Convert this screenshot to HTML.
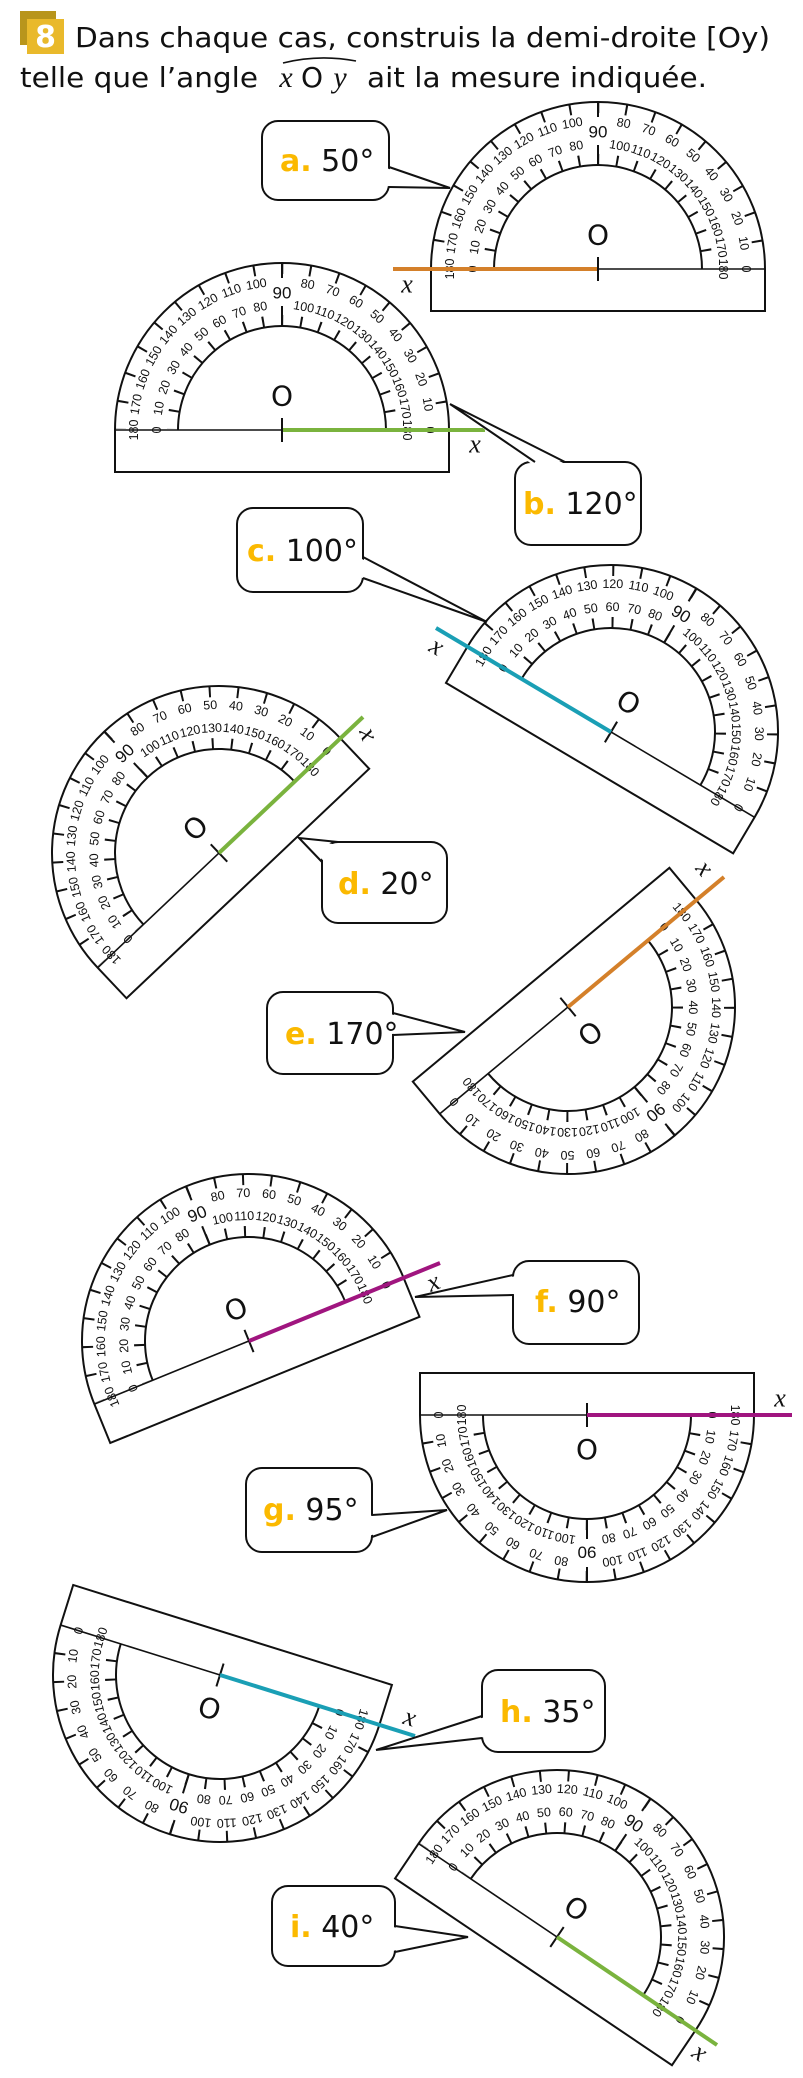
<!DOCTYPE html>
<html><head><meta charset="utf-8">
<style>
html,body{margin:0;padding:0;background:#fff;}
svg{display:block;}
.n{font-family:"Liberation Sans Narrow","Liberation Sans",sans-serif;font-size:12.5px;text-anchor:middle;dominant-baseline:central;fill:#111;}
.t{font-family:"DejaVu Sans","Liberation Sans",sans-serif;font-size:28px;fill:#111;}
.lb{font-family:"DejaVu Sans","Liberation Sans",sans-serif;font-size:30px;fill:#111;}
.lt{fill:#fbb900;font-weight:bold;}
.xx{font-family:"Liberation Serif",serif;font-style:italic;font-size:26px;fill:#111;text-anchor:middle;dominant-baseline:central;}
.bx{fill:#fff;stroke:#111;stroke-width:2;}
</style></head>
<body>
<svg width="803" height="2078" viewBox="0 0 803 2078" xmlns="http://www.w3.org/2000/svg">
<defs>
<clipPath id="up"><rect x="-200" y="-200" width="400" height="199"/></clipPath>
<g id="P">
  <path d="M-167,0 A167,167 0 0 1 167,0 L167,42 L-167,42 Z" fill="#fff" stroke="#111" stroke-width="2"/>
  <path d="M-104,0 A104,104 0 0 1 104,0" fill="none" stroke="#111" stroke-width="2"/>
  <line x1="-167" y1="0" x2="167" y2="0" stroke="#111" stroke-width="1.6"/>
  <g clip-path="url(#up)">
    <circle r="161.5" fill="none" stroke="#111" stroke-width="11" stroke-dasharray="2 26.187" stroke-dashoffset="1"/>
    <circle r="109.5" fill="none" stroke="#111" stroke-width="11" stroke-dasharray="2 17.111" stroke-dashoffset="1"/>
  </g>
  <line x1="0" y1="-104" x2="0" y2="-124" stroke="#111" stroke-width="2"/>
  <line x1="0" y1="-167" x2="0" y2="-152" stroke="#111" stroke-width="2"/>
  <line x1="0" y1="-12" x2="0" y2="12" stroke="#111" stroke-width="2"/>
  <text x="0" y="-34" style="font-family:'DejaVu Sans','Liberation Sans',sans-serif;font-size:28px;text-anchor:middle;dominant-baseline:central;fill:#111">O</text>
  <text class="n" transform="rotate(90) translate(0,-148)">0</text>
  <text class="n" transform="rotate(80) translate(0,-148)">10</text>
  <text class="n" transform="rotate(70) translate(0,-148)">20</text>
  <text class="n" transform="rotate(60) translate(0,-148)">30</text>
  <text class="n" transform="rotate(50) translate(0,-148)">40</text>
  <text class="n" transform="rotate(40) translate(0,-148)">50</text>
  <text class="n" transform="rotate(30) translate(0,-148)">60</text>
  <text class="n" transform="rotate(20) translate(0,-148)">70</text>
  <text class="n" transform="rotate(10) translate(0,-148)">80</text>
  <text class="n" transform="rotate(-10) translate(0,-148)">100</text>
  <text class="n" transform="rotate(-20) translate(0,-148)">110</text>
  <text class="n" transform="rotate(-30) translate(0,-148)">120</text>
  <text class="n" transform="rotate(-40) translate(0,-148)">130</text>
  <text class="n" transform="rotate(-50) translate(0,-148)">140</text>
  <text class="n" transform="rotate(-60) translate(0,-148)">150</text>
  <text class="n" transform="rotate(-70) translate(0,-148)">160</text>
  <text class="n" transform="rotate(-80) translate(0,-148)">170</text>
  <text class="n" transform="rotate(-90) translate(0,-148)">180</text>
  <text class="n" transform="rotate(90) translate(0,-125)">180</text>
  <text class="n" transform="rotate(80) translate(0,-125)">170</text>
  <text class="n" transform="rotate(70) translate(0,-125)">160</text>
  <text class="n" transform="rotate(60) translate(0,-125)">150</text>
  <text class="n" transform="rotate(50) translate(0,-125)">140</text>
  <text class="n" transform="rotate(40) translate(0,-125)">130</text>
  <text class="n" transform="rotate(30) translate(0,-125)">120</text>
  <text class="n" transform="rotate(20) translate(0,-125)">110</text>
  <text class="n" transform="rotate(10) translate(0,-125)">100</text>
  <text class="n" transform="rotate(-10) translate(0,-125)">80</text>
  <text class="n" transform="rotate(-20) translate(0,-125)">70</text>
  <text class="n" transform="rotate(-30) translate(0,-125)">60</text>
  <text class="n" transform="rotate(-40) translate(0,-125)">50</text>
  <text class="n" transform="rotate(-50) translate(0,-125)">40</text>
  <text class="n" transform="rotate(-60) translate(0,-125)">30</text>
  <text class="n" transform="rotate(-70) translate(0,-125)">20</text>
  <text class="n" transform="rotate(-80) translate(0,-125)">10</text>
  <text class="n" transform="rotate(-90) translate(0,-125)">0</text>
  <text class="n" style="font-size:17px" transform="translate(0,-137)">90</text>
</g>
</defs>

<!-- Title -->
<rect x="20" y="11" width="36" height="34" fill="#b8951c"/>
<rect x="27" y="19" width="37" height="35" fill="#e9b92b"/>
<text x="45.5" y="47" style="font-family:'DejaVu Sans','Liberation Sans',sans-serif;font-weight:bold;font-size:30px;fill:#fff;text-anchor:middle">8</text>
<text class="t" x="75" y="47" textLength="695" lengthAdjust="spacingAndGlyphs">Dans chaque cas, construis la demi-droite [Oy)</text>
<text class="t" x="20" y="87" textLength="238" lengthAdjust="spacingAndGlyphs">telle que l’angle</text>
<text x="286" y="87" style="font-family:'Liberation Serif',serif;font-style:italic;font-size:30px;fill:#111;text-anchor:middle">x</text>
<text class="t" x="312" y="87" text-anchor="middle">O</text>
<text x="340" y="87" style="font-family:'Liberation Serif',serif;font-style:italic;font-size:30px;fill:#111;text-anchor:middle">y</text>
<path d="M283,63 Q319,54 356,61" fill="none" stroke="#111" stroke-width="1.6"/>
<text class="t" x="367" y="87" textLength="340" lengthAdjust="spacingAndGlyphs">ait la mesure indiquée.</text>

<!-- Protractors -->
<use href="#P" transform="translate(598,269)"/>
<use href="#P" transform="translate(282,430)"/>
<use href="#P" transform="translate(611,732) rotate(30.7)"/>
<use href="#P" transform="translate(219,853) rotate(-43.4)"/>
<use href="#P" transform="translate(568,1007) rotate(140.2)"/>
<use href="#P" transform="translate(249,1341) rotate(-22.2)"/>
<use href="#P" transform="translate(587,1415) rotate(180)"/>
<use href="#P" transform="translate(220,1675) rotate(197.4)"/>
<use href="#P" transform="translate(557,1937) rotate(34)"/>

<!-- Rays -->
<g stroke-width="4" stroke-linecap="butt">
<line x1="393" y1="269" x2="598" y2="269" stroke="#d4802a"/>
<line x1="282" y1="430" x2="485" y2="430" stroke="#7ab33e"/>
<line x1="436" y1="628" x2="611" y2="732" stroke="#1a9fb5"/>
<line x1="219" y1="853" x2="363" y2="717" stroke="#7ab33e"/>
<line x1="568" y1="1007" x2="724" y2="877" stroke="#d4802a"/>
<line x1="249" y1="1341" x2="440" y2="1263" stroke="#a0157f"/>
<line x1="587" y1="1415" x2="792" y2="1415" stroke="#a0157f"/>
<line x1="220" y1="1675" x2="415" y2="1736" stroke="#1a9fb5"/>
<line x1="557" y1="1937" x2="717" y2="2045" stroke="#7ab33e"/>
</g>
<g stroke="#111" stroke-width="2">
<line x1="598" y1="257" x2="598" y2="281"/>
<line x1="282" y1="418" x2="282" y2="442"/>
</g>

<!-- x labels -->
<text class="xx" x="407" y="284">x</text>
<text class="xx" x="475" y="444">x</text>
<text class="xx" x="437" y="646" transform="rotate(30 437 646)">x</text>
<text class="xx" x="369" y="734" transform="rotate(70 369 734)">x</text>
<text class="xx" x="705" y="868" transform="rotate(50 705 868)">x</text>
<text class="xx" x="433" y="1282" transform="rotate(-22 433 1282)">x</text>
<text class="xx" x="780" y="1398">x</text>
<text class="xx" x="410" y="1717" transform="rotate(17 410 1717)">x</text>
<text class="xx" x="700" y="2052" transform="rotate(34 700 2052)">x</text>

<!-- Callouts -->
<rect class="bx" x="262" y="121" width="127" height="79" rx="16"/>
<polygon points="386,168 450,188 386,186" fill="#fff"/>
<polyline points="389,167 450,188 389,187" fill="none" stroke="#111" stroke-width="2"/>
<text class="lb" x="280" y="171"><tspan class="lt">a.</tspan> 50°</text>

<rect class="bx" x="515" y="462" width="126" height="83" rx="16"/>
<polygon points="533,465 450,404 567,465" fill="#fff"/>
<polyline points="535,462 450,404 565,462" fill="none" stroke="#111" stroke-width="2"/>
<text class="lb" x="523" y="514"><tspan class="lt">b.</tspan> 120°</text>

<rect class="bx" x="237" y="508" width="126" height="84" rx="16"/>
<polygon points="360,558 487,622 360,577" fill="#fff"/>
<polyline points="363,557 487,622 363,578" fill="none" stroke="#111" stroke-width="2"/>
<text class="lb" x="247" y="561"><tspan class="lt">c.</tspan> 100°</text>

<rect class="bx" x="322" y="842" width="125" height="81" rx="16"/>
<polygon points="325,862 299,838 338,845" fill="#fff"/>
<polyline points="322,862 299,838 338,842" fill="none" stroke="#111" stroke-width="2"/>
<text class="lb" x="338" y="894"><tspan class="lt">d.</tspan> 20°</text>

<rect class="bx" x="267" y="992" width="126" height="82" rx="16"/>
<polygon points="390,1014 465,1032 390,1034" fill="#fff"/>
<polyline points="393,1013 465,1032 393,1035" fill="none" stroke="#111" stroke-width="2"/>
<text class="lb" x="285" y="1044"><tspan class="lt">e.</tspan> 170°</text>

<rect class="bx" x="513" y="1261" width="126" height="83" rx="16"/>
<polygon points="516,1276 415,1297 516,1294" fill="#fff"/>
<polyline points="513,1275 415,1297 513,1295" fill="none" stroke="#111" stroke-width="2"/>
<text class="lb" x="535" y="1312"><tspan class="lt">f.</tspan> 90°</text>

<rect class="bx" x="246" y="1468" width="126" height="84" rx="16"/>
<polygon points="369,1516 447,1510 369,1536" fill="#fff"/>
<polyline points="372,1515 447,1510 372,1537" fill="none" stroke="#111" stroke-width="2"/>
<text class="lb" x="263" y="1520"><tspan class="lt">g.</tspan> 95°</text>

<rect class="bx" x="482" y="1670" width="123" height="82" rx="16"/>
<polygon points="485,1717 376,1750 485,1737" fill="#fff"/>
<polyline points="482,1716 376,1750 482,1738" fill="none" stroke="#111" stroke-width="2"/>
<text class="lb" x="500" y="1722"><tspan class="lt">h.</tspan> 35°</text>

<rect class="bx" x="272" y="1886" width="123" height="80" rx="16"/>
<polygon points="392,1927 468,1937 392,1951" fill="#fff"/>
<polyline points="395,1926 468,1937 395,1952" fill="none" stroke="#111" stroke-width="2"/>
<text class="lb" x="290" y="1937"><tspan class="lt">i.</tspan> 40°</text>
</svg>
</body></html>
